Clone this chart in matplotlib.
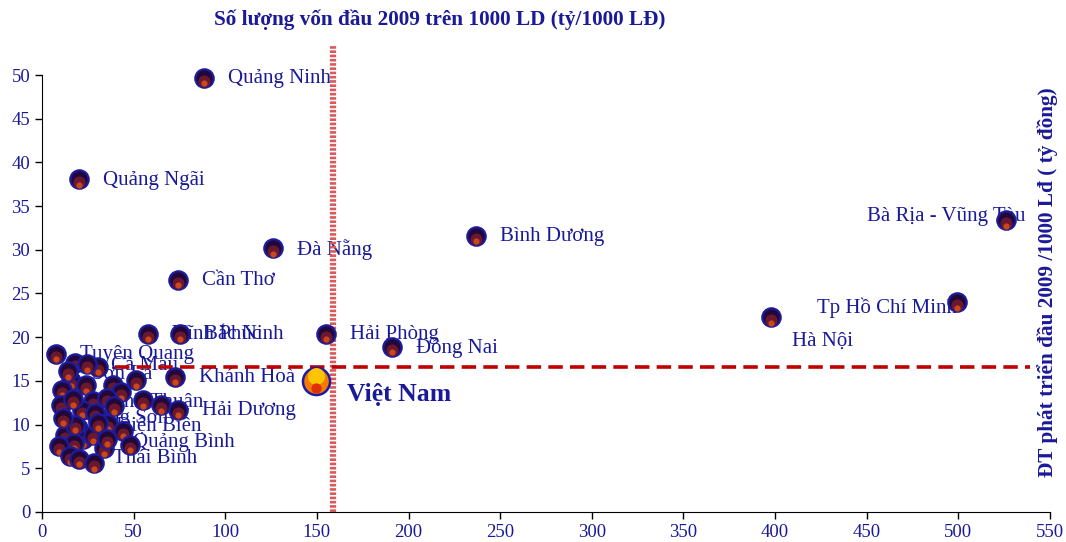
import matplotlib
matplotlib.use("Agg")
import matplotlib.pyplot as plt
from matplotlib.transforms import offset_copy

plt.rcParams["font.family"] = ["Liberation Serif", "DejaVu Serif"]

# named provinces: x = capital per 1000 LD, y = development investment per 1000 LD
names = ["Quảng Ninh", "Quảng Ngãi", "Đà Nẵng", "Cần Thơ", "Bình Dương",
         "Bà Rịa - Vũng Tàu", "Tp Hồ Chí Minh", "Hà Nội", "Hải Phòng", "Đồng Nai",
         "Vĩnh Phúc", "Bắc Ninh", "Khánh Hoà", "Hải Dương", "Tuyên Quang",
         "Cà Mau", "Sơn La", "Ninh Thuận", "Lạng Sơn", "Điện Biên",
         "Quảng Bình", "Thái Bình"]
named_x = [88.4, 20.2, 126.0, 74.2, 236.8, 526.0, 499.0, 397.7, 155.0, 191.0,
           57.8, 75.5, 72.6, 74.2, 7.6, 24.4, 14.3, 17.1, 11.6, 30.4, 35.3, 28.5]
named_y = [49.7, 38.1, 30.2, 26.6, 31.6, 33.4, 24.0, 22.3, 20.4, 18.9,
           20.4, 20.4, 15.5, 11.7, 18.1, 16.9, 16.1, 12.9, 10.8, 10.2, 8.4, 5.6]

# other provinces without a visible label
other_x = [18.2, 15.6, 24.0, 38.9, 43.3, 51.3, 10.7, 10.4, 27.6, 35.3, 39.5,
           54.9, 64.9, 21.6, 30.4, 36.2, 19.8, 44.4, 12.7, 22.5, 28.0, 17.5,
           48.0, 9.4, 33.8, 15.3, 20.4, 30.7, 28.9, 18.0]
other_y = [17.1, 15.0, 14.5, 14.5, 13.7, 15.1, 14.0, 12.2, 12.7, 13.0, 12.1,
           12.8, 12.2, 11.7, 10.8, 10.1, 9.6, 9.3, 8.8, 8.35, 8.8, 7.9,
           7.7, 7.5, 7.3, 6.4, 6.1, 16.6, 11.3, 10.0]

vn_x, vn_y = 149.5, 15.0
avg_x, avg_y = 158.8, 16.6   # reference lines

# label offsets in pixels (dx, dy, ha)
label_off = {
    "Bà Rịa - Vũng Tàu": (19, 4, "right"),
    "Tp Hồ Chí Minh": (0, -6, "right"),
    "Hà Nội": (21, -24, "left"),
    "Ninh Thuận": (30, -3, "left"),
    "Điện Biên": (18, -4, "left"),
    "Thái Bình": (19, 5, "left"),
    "Quảng Bình": (26, -4, "left"),
    "Sơn La": (24, -3, "left"),
}

navy = "#1a1a99"

fig = plt.figure(figsize=(10.66, 5.42), dpi=100)
ax = fig.add_axes([0.0394, 0.0554, 0.9456, 0.8062])
ax.set_xlim(0, 550)
ax.set_ylim(0, 50)


def bubble(x, y, z):
    ax.scatter([x], [y], s=175, c="#220838", edgecolors="#1c1ca0",
               linewidths=1.6, zorder=z, clip_on=False)
    t1 = offset_copy(ax.transData, fig=fig, x=0, y=-3, units="dots")
    ax.scatter([x], [y], s=75, c="#6a1830", linewidths=0, zorder=z + 0.001,
               transform=t1, clip_on=False)
    t2 = offset_copy(ax.transData, fig=fig, x=0, y=-5.5, units="dots")
    ax.scatter([x], [y], s=20, c="#c8481c", linewidths=0, zorder=z + 0.002,
               transform=t2, clip_on=False)


z = 5
for x, y in zip(other_x, other_y):
    bubble(x, y, z)
    z += 0.01
for x, y in zip(named_x, named_y):
    bubble(x, y, z)
    z += 0.01

for n, x, y in zip(names, named_x, named_y):
    dx, dy, ha = label_off.get(n, (24, -1, "left"))
    ax.annotate(n, (x, y), xytext=(dx, dy), textcoords="offset pixels",
                ha=ha, va="center", fontsize=15, color=navy, zorder=3)

# Viet Nam average
ax.scatter([vn_x], [vn_y], s=380, c="#f57a00", edgecolors="#1c1ca0",
           linewidths=1.8, zorder=z + 1, clip_on=False)
t_up = offset_copy(ax.transData, fig=fig, x=0, y=4.5, units="dots")
ax.scatter([vn_x], [vn_y], s=150, c="#ffc400", linewidths=0, zorder=z + 1.01,
           transform=t_up)
t_dn = offset_copy(ax.transData, fig=fig, x=0, y=-7, units="dots")
ax.scatter([vn_x], [vn_y], s=55, c="#e03000", linewidths=0, zorder=z + 1.02,
           transform=t_dn)
ax.annotate("Việt Nam", (vn_x, vn_y), xytext=(31, -14), textcoords="offset pixels",
            ha="left", va="center", fontsize=18.5, fontweight="bold", color=navy)

# reference lines
ax.plot([avg_x, avg_x], [0, 53.4], color="#d85a5a", lw=4.5,
        linestyle=(0, (0.42, 0.26)), zorder=4, clip_on=False)
ax.plot([40, 539], [avg_y, avg_y], color="#c00000", lw=2.6,
        linestyle=(0, (4, 2)), zorder=4, clip_on=False)

ax.set_xticks(range(0, 551, 50))
ax.set_yticks(range(0, 51, 5))
ax.tick_params(labelsize=13.5, labelcolor=navy, direction="out", length=5, width=1)
for s in ["top", "right"]:
    ax.spines[s].set_visible(False)

fig.text(0.412, 0.963, "Số lượng vốn đầu 2009 trên 1000 LD (tỷ/1000 LĐ)",
         ha="center", va="center", fontsize=15.3, fontweight="bold", color=navy)
fig.text(0.983, 0.480, "ĐT phát triển đầu 2009 /1000 Lđ ( tỷ đồng)",
         ha="center", va="center", rotation=90, fontsize=15.3,
         fontweight="bold", color=navy)

fig.savefig("out.png", dpi=100)
